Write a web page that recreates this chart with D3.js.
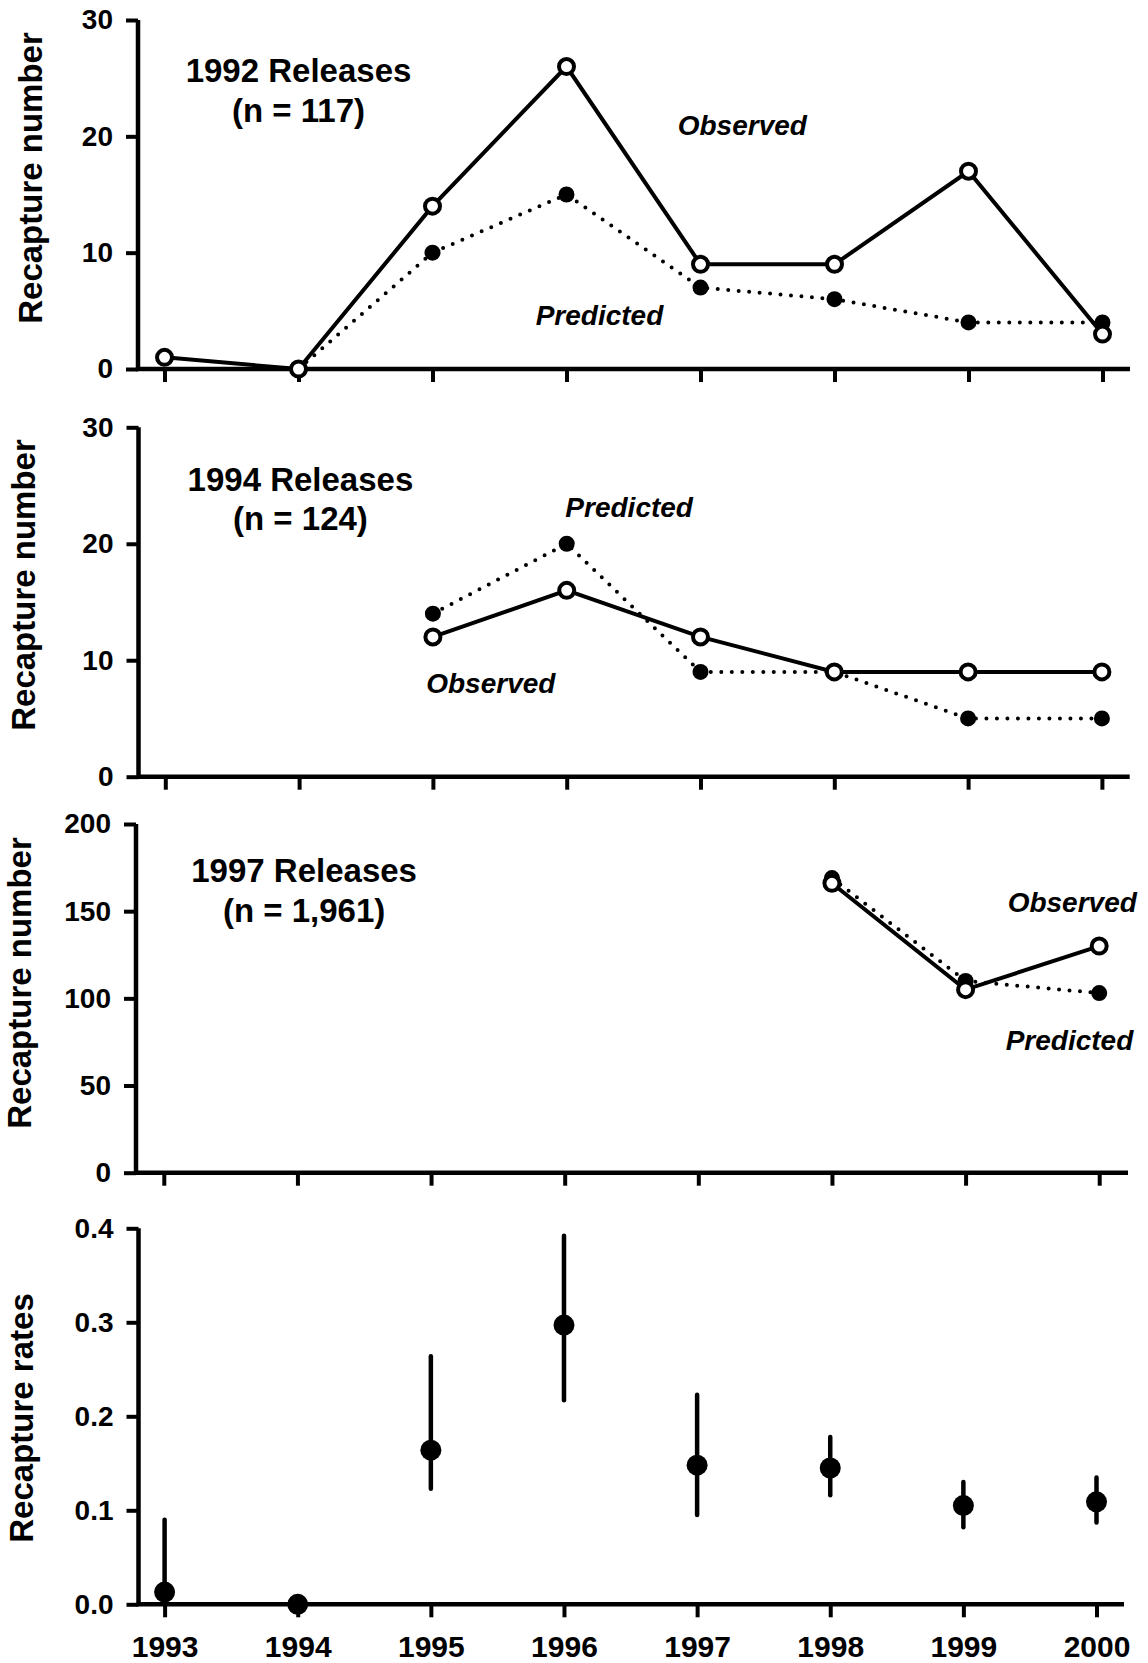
<!DOCTYPE html>
<html lang="en">
<head>
    <meta charset="UTF-8">
    <title>Recapture numbers and rates</title>
    <script src="https://d3js.org/d3.v7.min.js"></script>
    <style>
        body {
            margin: 0;
            background: #fff;
        }
        text {
            font-family: "Liberation Sans", Arial, sans-serif;
            font-weight: bold;
            fill: #000;
        }
    </style>
</head>
<body>
    <script>
        // ---- data ----
        const years = [1993, 1994, 1995, 1996, 1997, 1998, 1999, 2000];

        const obs1992 = [1, 0, 14, 26, 9, 9, 17, 3];
        const pred1992 = [null, 0, 10, 15, 7, 6, 4, 4];

        const obs1994 = [null, null, 12, 16, 12, 9, 9, 9];
        const pred1994 = [null, null, 14, 20, 9, 9, 5, 5];

        const obs1997 = [null, null, null, null, null, 166, 105, 130];
        const pred1997 = [null, null, null, null, null, 169, 110, 103];

        const rates = [0.013, 0, 0.164, 0.297, 0.148, 0.145, 0.105, 0.109];
        const rateLow = [0, null, 0.123, 0.217, 0.095, 0.116, 0.082, 0.087];
        const rateHigh = [0.090, null, 0.264, 0.392, 0.223, 0.178, 0.130, 0.135];

        const countTicks = [0, 10, 20, 30];
        const bigTicks = [0, 50, 100, 150, 200];
        const rateTicks = [0, 0.1, 0.2, 0.3, 0.4];

        const width = 1148;
        const height = 1663;

        const svg = d3.select("body").append("svg")
            .attr("width", width)
            .attr("height", height);

        function panel(cfg) {
            const g = svg.append("g");
            const x = d3.scaleLinear().domain([1993, 2000]).range([cfg.x0, cfg.x1]);
            const y = d3.scaleLinear().domain(cfg.domain).range([cfg.yBot, cfg.yTop]);

            // axes: ticks from d3, the L-shaped frame drawn as one path
            const yAxis = g.append("g")
                .attr("transform", `translate(${cfg.axisX},0)`)
                .call(d3.axisLeft(y).tickValues(cfg.ticks).tickFormat(cfg.fmt)
                    .tickSize(12).tickPadding(13));
            const xAxis = g.append("g")
                .attr("transform", `translate(0,${cfg.yBot})`)
                .call(d3.axisBottom(x).tickValues(years)
                    .tickFormat(cfg.showYears ? d3.format("d") : () => "")
                    .tickSize(13).tickPadding(18));
            g.selectAll(".domain").remove();
            g.selectAll(".tick line").attr("stroke", "#000").attr("stroke-width", 4);
            g.selectAll(".tick text")
                .attr("fill", "#000")
                .style("font-family", "'Liberation Sans', Arial, sans-serif")
                .style("font-weight", "bold");
            yAxis.selectAll(".tick text").style("font-size", "28px");
            xAxis.selectAll(".tick text").style("font-size", "30px");

            g.append("path")
                .attr("d", `M${cfg.axisX},${cfg.yTop}V${cfg.yBot}H${cfg.axisRight}`)
                .attr("fill", "none")
                .attr("stroke", "#000")
                .attr("stroke-width", 4.5)
                .attr("stroke-linejoin", "miter");

            // y axis title
            g.append("text")
                .attr("transform", `translate(${cfg.titleX},${cfg.titleY}) rotate(-90)`)
                .attr("text-anchor", "middle")
                .style("font-size", "33px")
                .text(cfg.yTitle);

            if (cfg.obs) {
                const line = d3.line()
                    .defined(d => d[1] != null)
                    .x(d => x(d[0]))
                    .y(d => y(d[1]));

                const predPts = years.map((yr, i) => [yr, cfg.pred[i]]);
                const obsPts = years.map((yr, i) => [yr, cfg.obs[i]]);

                g.append("path")
                    .datum(predPts)
                    .attr("d", line)
                    .attr("fill", "none")
                    .attr("stroke", "#000")
                    .attr("stroke-width", 4)
                    .attr("stroke-linecap", "round")
                    .attr("stroke-dasharray", "0,10.5");

                g.append("path")
                    .datum(obsPts)
                    .attr("d", line)
                    .attr("fill", "none")
                    .attr("stroke", "#000")
                    .attr("stroke-width", 4);

                g.selectAll(".pred")
                    .data(predPts.filter(d => d[1] != null))
                    .enter().append("circle")
                    .attr("class", "pred")
                    .attr("cx", d => x(d[0]))
                    .attr("cy", d => y(d[1]))
                    .attr("r", 8)
                    .attr("fill", "#000");

                g.selectAll(".obs")
                    .data(obsPts.filter(d => d[1] != null))
                    .enter().append("circle")
                    .attr("class", "obs")
                    .attr("cx", d => x(d[0]))
                    .attr("cy", d => y(d[1]))
                    .attr("r", 7.5)
                    .attr("fill", "#fff")
                    .attr("stroke", "#000")
                    .attr("stroke-width", 4);
            }

            if (cfg.rates) {
                const pts = years.map((yr, i) => ({ yr: yr, v: cfg.rates[i], lo: cfg.low[i], hi: cfg.high[i] }));

                g.selectAll(".err")
                    .data(pts.filter(d => d.lo != null))
                    .enter().append("line")
                    .attr("class", "err")
                    .attr("x1", d => x(d.yr))
                    .attr("x2", d => x(d.yr))
                    .attr("y1", d => y(d.lo))
                    .attr("y2", d => y(d.hi))
                    .attr("stroke", "#000")
                    .attr("stroke-width", 4.5)
                    .attr("stroke-linecap", "round");

                g.selectAll(".rate")
                    .data(pts)
                    .enter().append("circle")
                    .attr("class", "rate")
                    .attr("cx", d => x(d.yr))
                    .attr("cy", d => y(d.v))
                    .attr("r", 10.5)
                    .attr("fill", "#000");
            }

            // annotations, placed in data units
            (cfg.labels || []).forEach(l => {
                g.append("text")
                    .attr("x", x(l.x))
                    .attr("y", y(l.y))
                    .attr("text-anchor", l.anchor)
                    .style("font-size", l.size + "px")
                    .style("font-style", l.italic ? "italic" : "normal")
                    .text(l.t);
            });
        }

        panel({
            x0: 164.5, x1: 1102.5, yTop: 20, yBot: 369, axisX: 138, axisRight: 1130,
            domain: [0, 30], ticks: countTicks, fmt: d3.format("d"),
            titleX: 42, titleY: 178, yTitle: "Recapture number",
            obs: obs1992, pred: pred1992,
            labels: [
                { t: "1992 Releases", x: 1994.0, y: 24.7, anchor: "middle", size: 33 },
                { t: "(n = 117)", x: 1994.0, y: 21.2, anchor: "middle", size: 33 },
                { t: "Observed", x: 1996.83, y: 20.1, anchor: "start", size: 28, italic: true },
                { t: "Predicted", x: 1995.77, y: 3.78, anchor: "start", size: 28, italic: true }
            ]
        });

        panel({
            x0: 165.3, x1: 1101.9, yTop: 427.3, yBot: 776.7, axisX: 138.5, axisRight: 1129.7,
            domain: [0, 30], ticks: countTicks, fmt: d3.format("d"),
            titleX: 35, titleY: 585, yTitle: "Recapture number",
            obs: obs1994, pred: pred1994,
            labels: [
                { t: "1994 Releases", x: 1994.01, y: 24.56, anchor: "middle", size: 33 },
                { t: "(n = 124)", x: 1994.01, y: 21.22, anchor: "middle", size: 33 },
                { t: "Predicted", x: 1995.99, y: 22.32, anchor: "start", size: 28, italic: true },
                { t: "Observed", x: 1994.95, y: 7.16, anchor: "start", size: 28, italic: true }
            ]
        });

        panel({
            x0: 163.8, x1: 1099.2, yTop: 824, yBot: 1172.7, axisX: 136, axisRight: 1128,
            domain: [0, 200], ticks: bigTicks, fmt: d3.format("d"),
            titleX: 31, titleY: 983, yTitle: "Recapture number",
            obs: obs1997, pred: pred1997,
            labels: [
                { t: "1997 Releases", x: 1994.05, y: 166.9, anchor: "middle", size: 33 },
                { t: "(n = 1,961)", x: 1994.05, y: 144, anchor: "middle", size: 33 },
                { t: "Observed", x: 1999.315, y: 149.7, anchor: "start", size: 28, italic: true },
                { t: "Predicted", x: 1999.30, y: 70.4, anchor: "start", size: 28, italic: true }
            ]
        });

        panel({
            x0: 164.6, x1: 1096.5, yTop: 1228.3, yBot: 1604.3, axisX: 138.5, axisRight: 1124,
            domain: [0, 0.4], ticks: rateTicks, fmt: d3.format(".1f"),
            titleX: 33, titleY: 1418, yTitle: "Recapture rates",
            showYears: true,
            rates: rates, low: rateLow, high: rateHigh
        });
    </script>
</body>
</html>
